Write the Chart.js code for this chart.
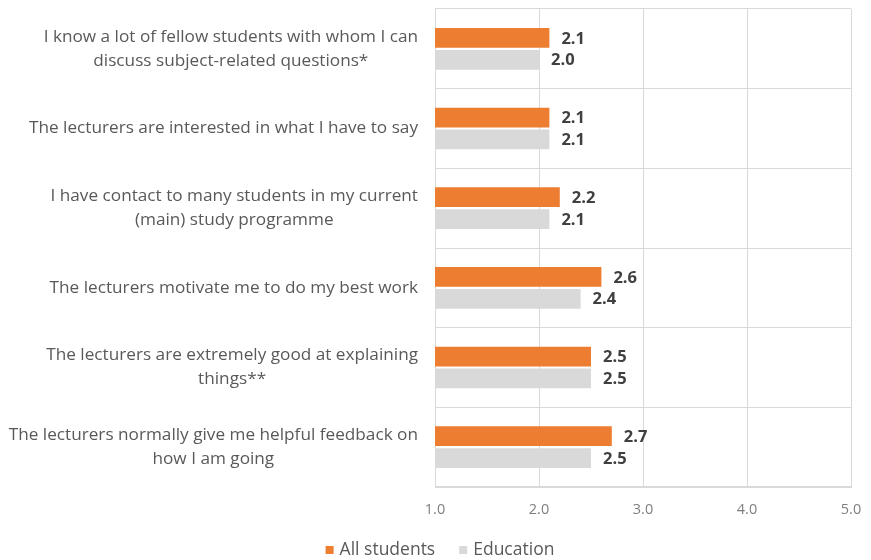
<!DOCTYPE html>
<html>
<head>
<meta charset="utf-8">
<script src="https://cdn.jsdelivr.net/npm/chart.js@4"></script>
<style>
  html, body { margin: 0; padding: 0; background: #ffffff; }
  #wrap { width: 871px; height: 560px; position: relative; }
</style>
</head>
<body>
<div id="wrap"><canvas id="chart" width="871" height="560"></canvas></div>
<script>
// Statements (each a list of display lines)
const categories = [
  ["I know a lot of fellow students with whom I can", "discuss subject-related questions*"],
  ["The lecturers are interested in what I have to say"],
  ["I have contact to many students in my current", "(main) study programme"],
  ["The lecturers motivate me to do my best work"],
  ["The lecturers are extremely good at explaining", "things**"],
  ["The lecturers normally give me helpful feedback on", "how I am going"]
];
const allStudents = [2.1, 2.1, 2.2, 2.6, 2.5, 2.7];
const education   = [2.0, 2.1, 2.1, 2.4, 2.5, 2.5];
const seriesNames = ["All students", "Education"];
const seriesColors = ["#ED7D31", "#D9D9D9"];
const xTicks = [1.0, 2.0, 3.0, 4.0, 5.0];

const FONT = "'Open Sans', 'DejaVu Sans', sans-serif";
const LABEL_COLOR = "#595959";

// Right-aligned statement blocks with centred lines
const categoryLabels = {
  id: 'categoryLabels',
  afterDraw(chart) {
    const ctx = chart.ctx;
    const y = chart.scales.y;
    const right = y.right - 17;
    const lineH = 24;
    ctx.save();
    ctx.font = "17.2px " + FONT;
    ctx.fillStyle = LABEL_COLOR;
    ctx.textAlign = 'center';
    ctx.textBaseline = 'middle';
    categories.forEach((lines, i) => {
      const cy = y.getPixelForValue(i);
      const w = Math.max(...lines.map(l => ctx.measureText(l).width));
      const cx = right - w / 2;
      const top = cy - (lines.length - 1) * lineH / 2;
      lines.forEach((l, k) => ctx.fillText(l, cx, top + k * lineH));
    });
    ctx.restore();
  }
};

// Bold value labels at the end of each bar
const valueLabels = {
  id: 'valueLabels',
  afterDatasetsDraw(chart) {
    const ctx = chart.ctx;
    ctx.save();
    ctx.font = "bold 16.5px " + FONT;
    ctx.fillStyle = "#404040";
    ctx.textAlign = 'left';
    ctx.textBaseline = 'middle';
    chart.data.datasets.forEach((ds, di) => {
      chart.getDatasetMeta(di).data.forEach((bar, i) => {
        ctx.fillText(ds.data[i].toFixed(1), bar.x + 12, bar.y + 1);
      });
    });
    ctx.restore();
  }
};

// Series key below the axis: small squares followed by the series name
const seriesKey = {
  id: 'seriesKey',
  afterDraw(chart) {
    const ctx = chart.ctx;
    const box = 8, gapText = 6, gapItem = 24;
    const cy = 550;
    ctx.save();
    ctx.font = "17.5px " + FONT;
    ctx.textBaseline = 'middle';
    ctx.textAlign = 'left';
    const ds = chart.data.datasets;
    const widths = ds.map(d => box + gapText + ctx.measureText(d.label).width);
    const total = widths.reduce((a, b) => a + b, 0) + gapItem * (ds.length - 1);
    let x = 440 - total / 2;
    ds.forEach((d, i) => {
      ctx.fillStyle = d.backgroundColor;
      ctx.fillRect(x, cy - box / 2, box, box);
      ctx.fillStyle = LABEL_COLOR;
      ctx.fillText(d.label, x + box + gapText, cy);
      x += widths[i] + gapItem;
    });
    ctx.restore();
  }
};

new Chart(document.getElementById('chart'), {
  type: 'bar',
  data: {
    labels: categories.map(c => c.join(' ')),
    datasets: [
      { label: seriesNames[0], data: allStudents, backgroundColor: seriesColors[0],
        barPercentage: 0.9, categoryPercentage: 0.55 },
      { label: seriesNames[1], data: education, backgroundColor: seriesColors[1],
        barPercentage: 0.9, categoryPercentage: 0.55 }
    ]
  },
  options: {
    indexAxis: 'y',
    responsive: false,
    animation: false,
    layout: { padding: { top: 9, right: 20, left: 0, bottom: 35 } },
    scales: {
      x: {
        min: 1, max: 5,
        afterBuildTicks(scale) { scale.ticks = xTicks.map(v => ({ value: v })); },
        afterFit(scale) {
          scale.height = 38;
          scale.paddingLeft = 0;
          scale.paddingRight = 0;
        },
        ticks: {
          callback: v => Number(v).toFixed(1),
          color: '#7f7f7f',
          font: { family: FONT, size: 14.5 },
          padding: 14
        },
        grid: { color: '#D9D9D9', lineWidth: 1, drawTicks: false },
        border: { color: '#D9D9D9' }
      },
      y: {
        afterFit(scale) { scale.width = 435; },
        ticks: { display: false },
        grid: { color: '#D9D9D9', lineWidth: 1, drawTicks: false, offset: true },
        border: { display: false }
      }
    },
    plugins: {
      legend: { display: false },
      tooltip: { enabled: false }
    }
  },
  plugins: [categoryLabels, valueLabels, seriesKey]
});
</script>
</body>
</html>
